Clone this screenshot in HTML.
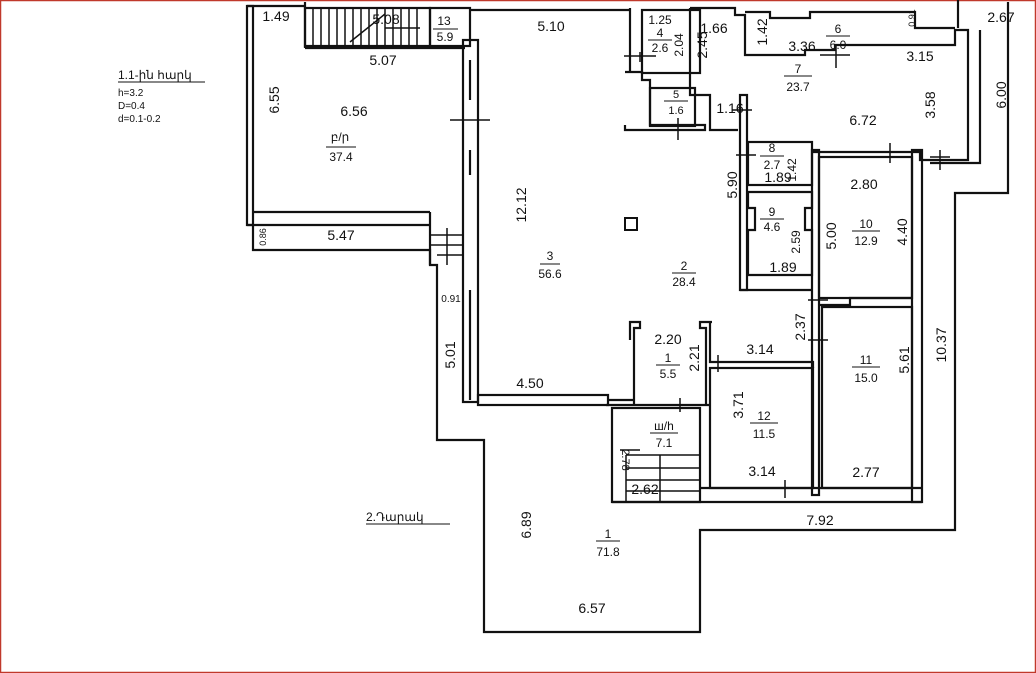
<!DOCTYPE html>
<html><head><meta charset="utf-8"><style>
html,body{margin:0;padding:0;background:#fff}
svg{display:block}
text{font-family:"Liberation Sans",sans-serif;fill:#111}
</style></head><body>
<svg width="1036" height="673" viewBox="0 0 1036 673" xmlns="http://www.w3.org/2000/svg">
<rect x="0.5" y="0.5" width="1035" height="672" fill="#fff" stroke="#c0392b" stroke-width="1.5"/>
<g fill="none" stroke="#111" stroke-width="2.2">
<rect x="247" y="6" width="6" height="219"/>
<line x1="247" y1="6" x2="305" y2="6"/>
<line x1="253" y1="212" x2="430" y2="212"/>
<line x1="247" y1="225" x2="430" y2="225"/>
<polyline points="253,225 253,250 430,250 430,265 437,265 437,440 484,440 484,632 700,632 700,530 955,530 955,193 1008,193 1008,2"/>
<line x1="430" y1="212" x2="430" y2="265"/>
<rect x="305" y="8" width="125" height="38"/>
<rect x="430" y="8" width="40" height="38"/>
<line x1="305" y1="48" x2="465" y2="48"/>
<line x1="305" y1="2" x2="305" y2="48"/>
<rect x="463" y="40" width="15" height="362"/>
<line x1="470" y1="60" x2="470" y2="100"/><line x1="470" y1="150" x2="470" y2="175"/><line x1="470" y1="290" x2="470" y2="400"/>
<line x1="470" y1="10" x2="630" y2="10"/>
<line x1="630" y1="8" x2="630" y2="72"/>
<rect x="642" y="10" width="58" height="63"/>
<polyline points="625,72 642,72 642,80 650,80 650,125 705,125 705,130 625,130 625,125"/>
<rect x="650" y="88" width="45" height="38"/>
<polyline points="690,8 735,8 735,15 745,15 745,55 805,55 805,50 835,50 835,45 955,45 955,30 968,30 968,160 920,160 920,152 812,152"/>
<polyline points="690,8 690,95 710,95 710,130 738,130"/>
<polyline points="745,12 770,12 770,18 810,18 810,12 915,12 915,28 955,28"/>
<line x1="958" y1="0" x2="958" y2="28"/>
<polyline points="980,30 980,163 930,163"/>
<rect x="740" y="95" width="7" height="195"/>
<rect x="748" y="142" width="64" height="43"/>
<polyline points="748,192 812,192 812,208 805,208 805,230 812,230 812,275 748,275 748,230 755,230 755,208 748,208 748,192"/>
<line x1="740" y1="290" x2="812" y2="290"/>
<rect x="812" y="150" width="7" height="345"/>
<rect x="819" y="157" width="93" height="141"/>
<polyline points="819,305 850,305 850,298 912,298"/>
<rect x="822" y="307" width="90" height="181"/>
<rect x="912" y="150" width="10" height="352"/>
<rect x="710" y="368" width="103" height="120"/>
<polyline points="813,368 813,362 710,362 710,322"/>
<polyline points="630,340 630,322 640,322 640,328 634,328 634,405"/>
<polyline points="712,322 700,322 700,328 706,328 706,405"/>
<rect x="478" y="395" width="130" height="10"/>
<line x1="608" y1="400" x2="634" y2="400"/>
<line x1="606" y1="405" x2="710" y2="405"/>
<rect x="612" y="408" width="88" height="94"/>
<line x1="612" y1="502" x2="922" y2="502"/>
<line x1="700" y1="488" x2="922" y2="488"/>
</g>
<g stroke="#111" stroke-width="1.5">
<line x1="313" y1="8" x2="313" y2="46"/><line x1="321" y1="8" x2="321" y2="46"/><line x1="329" y1="8" x2="329" y2="46"/><line x1="337" y1="8" x2="337" y2="46"/><line x1="345" y1="8" x2="345" y2="46"/><line x1="353" y1="8" x2="353" y2="46"/><line x1="361" y1="8" x2="361" y2="46"/><line x1="369" y1="8" x2="369" y2="46"/><line x1="377" y1="8" x2="377" y2="46"/><line x1="385" y1="8" x2="385" y2="46"/><line x1="393" y1="8" x2="393" y2="46"/><line x1="401" y1="8" x2="401" y2="46"/><line x1="409" y1="8" x2="409" y2="46"/><line x1="417" y1="8" x2="417" y2="46"/>
<line x1="350" y1="42" x2="385" y2="14"/><line x1="385" y1="28" x2="420" y2="28"/>
<line x1="430" y1="235" x2="463" y2="235"/><line x1="430" y1="245" x2="463" y2="245"/><line x1="437" y1="255" x2="463" y2="255"/><line x1="447" y1="228" x2="447" y2="265"/>
<line x1="626" y1="455" x2="700" y2="455"/><line x1="626" y1="468" x2="700" y2="468"/><line x1="626" y1="480" x2="700" y2="480"/><line x1="626" y1="491" x2="700" y2="491"/><line x1="626" y1="455" x2="626" y2="502"/><line x1="660" y1="455" x2="660" y2="502"/>
<line x1="450" y1="120" x2="490" y2="120"/><line x1="732" y1="110" x2="752" y2="110"/><line x1="736" y1="155" x2="756" y2="155"/><line x1="808" y1="300" x2="828" y2="300"/><line x1="808" y1="340" x2="828" y2="340"/><line x1="880" y1="152" x2="900" y2="152"/><line x1="930" y1="157" x2="950" y2="157"/><line x1="820" y1="55" x2="850" y2="55"/><line x1="640" y1="450" x2="620" y2="450"/>
<line x1="890" y1="143" x2="890" y2="163"/><line x1="940" y1="150" x2="940" y2="170"/><line x1="836" y1="45" x2="836" y2="68"/><line x1="678" y1="118" x2="678" y2="140"/><line x1="718" y1="355" x2="718" y2="372"/><line x1="785" y1="480" x2="785" y2="498"/><line x1="680" y1="398" x2="680" y2="412"/><line x1="640" y1="52" x2="640" y2="62"/><line x1="624" y1="56" x2="656" y2="56"/>
</g>
<rect x="625" y="218" width="12" height="12" fill="none" stroke="#111" stroke-width="2"/>
<g font-size="14" text-anchor="middle">
<text x="276" y="21">1.49</text><text x="386" y="24">5.08</text><text x="444" y="25" font-size="12">13</text><line x1="433" y1="29" x2="458" y2="29" stroke="#111"/><text x="445" y="41" font-size="12">5.9</text>
<text x="383" y="65">5.07</text><text x="551" y="31">5.10</text><text x="354" y="116">6.56</text>
<text x="340" y="141" font-size="12">բ/ր</text><line x1="326" y1="147" x2="356" y2="147" stroke="#111"/><text x="341" y="161" font-size="12">37.4</text>
<text x="341" y="240">5.47</text><text x="451" y="302" font-size="10">0.91</text>
<text x="550" y="260" font-size="12">3</text><line x1="540" y1="264" x2="560" y2="264" stroke="#111"/><text x="550" y="278" font-size="12">56.6</text>
<text x="684" y="270" font-size="12">2</text><line x1="672" y1="273" x2="696" y2="273" stroke="#111"/><text x="684" y="286" font-size="12">28.4</text>
<text x="530" y="388">4.50</text><text x="668" y="344">2.20</text>
<text x="668" y="362" font-size="12">1</text><line x1="656" y1="365" x2="680" y2="365" stroke="#111"/><text x="668" y="378" font-size="12">5.5</text>
<text x="664" y="430" font-size="12">ш/h</text><line x1="650" y1="433" x2="678" y2="433" stroke="#111"/><text x="664" y="447" font-size="12">7.1</text>
<text x="645" y="494">2.62</text><text x="760" y="354">3.14</text>
<text x="764" y="420" font-size="12">12</text><line x1="750" y1="423" x2="778" y2="423" stroke="#111"/><text x="764" y="438" font-size="12">11.5</text>
<text x="762" y="476">3.14</text><text x="866" y="477">2.77</text>
<text x="866" y="364" font-size="12">11</text><line x1="852" y1="367" x2="880" y2="367" stroke="#111"/><text x="866" y="382" font-size="12">15.0</text>
<text x="820" y="525">7.92</text>
<text x="608" y="538" font-size="12">1</text><line x1="596" y1="541" x2="620" y2="541" stroke="#111"/><text x="608" y="556" font-size="12">71.8</text>
<text x="592" y="613">6.57</text>
<text x="660" y="24" font-size="12">1.25</text><text x="660" y="37" font-size="12">4</text><line x1="648" y1="40" x2="672" y2="40" stroke="#111"/><text x="660" y="52" font-size="12">2.6</text>
<text x="676" y="98" font-size="11">5</text><line x1="664" y1="101" x2="688" y2="101" stroke="#111"/><text x="676" y="114" font-size="11">1.6</text>
<text x="714" y="33">1.66</text><text x="730" y="113">1.16</text>
<text x="838" y="33" font-size="12">6</text><line x1="826" y1="36" x2="850" y2="36" stroke="#111"/><text x="838" y="49" font-size="12">6.0</text><text x="802" y="51">3.36</text>
<text x="920" y="61">3.15</text><text x="1001" y="22">2.67</text>
<text x="798" y="73" font-size="12">7</text><line x1="784" y1="76" x2="812" y2="76" stroke="#111"/><text x="798" y="91" font-size="12">23.7</text>
<text x="863" y="125">6.72</text>
<text x="772" y="152" font-size="12">8</text><line x1="760" y1="156" x2="784" y2="156" stroke="#111"/><text x="772" y="169" font-size="12">2.7</text><text x="778" y="182">1.89</text>
<text x="772" y="216" font-size="12">9</text><line x1="760" y1="219" x2="784" y2="219" stroke="#111"/><text x="772" y="231" font-size="12">4.6</text><text x="783" y="272">1.89</text>
<text x="864" y="189">2.80</text>
<text x="866" y="228" font-size="12">10</text><line x1="852" y1="231" x2="880" y2="231" stroke="#111"/><text x="866" y="245" font-size="12">12.9</text>
</g>
<g font-size="14" text-anchor="middle">
<text transform="translate(279,100) rotate(-90)">6.55</text>
<text transform="translate(526,205) rotate(-90)">12.12</text>
<text transform="translate(455,355) rotate(-90)">5.01</text>
<text transform="translate(531,525) rotate(-90)">6.89</text>
<text transform="translate(737,185) rotate(-90)">5.90</text>
<text transform="translate(707,45) rotate(-90)">2.45</text>
<text transform="translate(683,45) rotate(-90)" font-size="12">2.04</text>
<text transform="translate(767,32) rotate(-90)">1.42</text>
<text transform="translate(935,105) rotate(-90)">3.58</text>
<text transform="translate(1006,95) rotate(-90)">6.00</text>
<text transform="translate(796,170) rotate(-90)" font-size="12">1.42</text>
<text transform="translate(800,242) rotate(-90)" font-size="12">2.59</text>
<text transform="translate(836,236) rotate(-90)">5.00</text>
<text transform="translate(907,232) rotate(-90)">4.40</text>
<text transform="translate(805,327) rotate(-90)">2.37</text>
<text transform="translate(699,358) rotate(-90)">2.21</text>
<text transform="translate(743,405) rotate(-90)">3.71</text>
<text transform="translate(909,360) rotate(-90)">5.61</text>
<text transform="translate(946,345) rotate(-90)">10.37</text>
<text transform="translate(266,237) rotate(-90)" font-size="9">0.86</text>
<text transform="translate(915,18) rotate(-90)" font-size="9">0.91</text>
<text transform="translate(622,460) rotate(90)" font-size="11">2.78</text>
</g>
<g font-size="11">
<text x="118" y="79" font-size="12">1.1-ին հարկ</text><line x1="118" y1="82" x2="205" y2="82" stroke="#111"/>
<text x="118" y="96" font-size="10">h=3.2</text><text x="118" y="109" font-size="10">D=0.4</text><text x="118" y="122" font-size="10">d=0.1-0.2</text>
<text x="366" y="521" font-size="12">2.Դարակ</text><line x1="366" y1="524" x2="450" y2="524" stroke="#111"/>
</g>
</svg>
</body></html>
